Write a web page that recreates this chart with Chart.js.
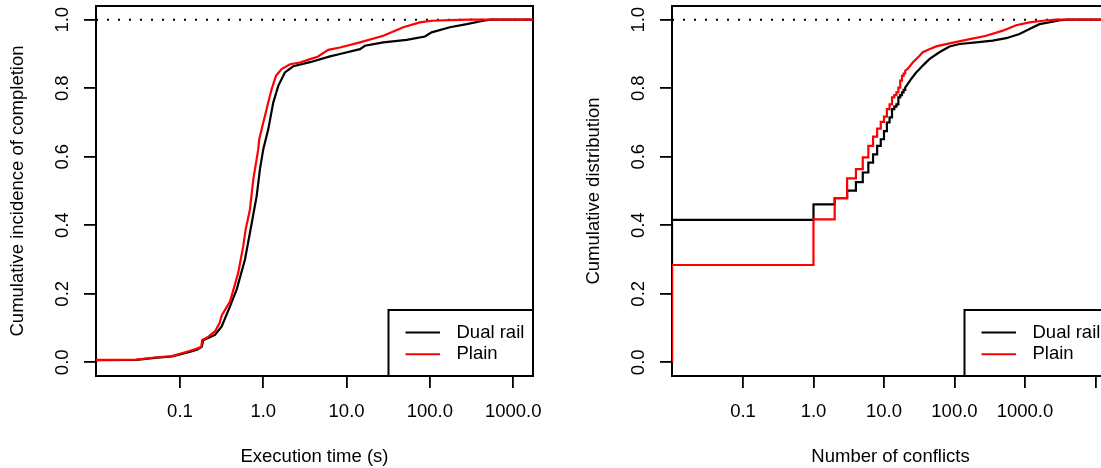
<!DOCTYPE html>
<html lang="en">
<head>
<meta charset="UTF-8">
<title>Execution time and conflicts</title>
<script src="https://cdn.jsdelivr.net/npm/chart.js"></script>
<style>
  html, body { margin: 0; padding: 0; background: #fff; overflow: hidden; width: 1101px; height: 468px; }
  .panel { position: absolute; top: 0; width: 550px; height: 468px; }
  #left { left: 0; }
  #right { left: 576px; }
</style>
</head>
<body>
<div class="panel" id="left"><canvas id="timeChart" width="550" height="468"></canvas></div>
<div class="panel" id="right"><canvas id="conflictChart" width="550" height="468"></canvas></div>

<script>
// series shared by both panels
const seriesNames = ['Dual rail', 'Plain'];
const seriesColors = ['#000000', '#ff0000'];

const yTicks = [0, 0.2, 0.4, 0.6, 0.8, 1.0];
const yTickLabels = ['0.0', '0.2', '0.4', '0.6', '0.8', '1.0'];

// left panel: execution time (s)
const timeTicks = [0.1, 1, 10, 100, 1000];
const timeTickLabels = ['0.1', '1.0', '10.0', '100.0', '1000.0'];

const dualTimeX = [0.001, 0.03, 0.05, 0.08, 0.1, 0.13, 0.16, 0.183, 0.19, 0.263, 0.317, 0.40, 0.48, 0.603,
  0.692, 0.833, 0.912, 1.0, 1.148, 1.318, 1.514, 1.82, 2.29, 3.64, 6.32, 8.33, 14.5, 16.6, 27.6, 52.6,
  87.3, 105, 174, 277, 438, 527, 100000];
const dualTimeY = [0.004, 0.007, 0.013, 0.017, 0.023, 0.030, 0.037, 0.045, 0.064, 0.080, 0.105, 0.164, 0.213, 0.300,
  0.378, 0.485, 0.563, 0.622, 0.680, 0.758, 0.807, 0.846, 0.864, 0.876, 0.893, 0.900, 0.914, 0.924, 0.934, 0.941,
  0.951, 0.963, 0.978, 0.987, 0.997, 1.0, 1.0];

const plainTimeX = [0.001, 0.03, 0.05, 0.08, 0.1, 0.13, 0.16, 0.18, 0.185, 0.22, 0.263, 0.3, 0.317, 0.4, 0.5,
  0.575, 0.615, 0.692, 0.759, 0.833, 0.871, 0.895, 1.0, 1.048, 1.15, 1.26, 1.42, 1.66, 2.09, 2.76, 3.64, 4.5,
  6.03, 8.33, 14.5, 27.6, 48, 76, 105, 174, 300, 100000];
const plainTimeY = [0.005, 0.008, 0.014, 0.018, 0.025, 0.033, 0.040, 0.045, 0.065, 0.075, 0.090, 0.115, 0.137, 0.178, 0.261,
  0.339, 0.388, 0.446, 0.534, 0.593, 0.622, 0.651, 0.700, 0.719, 0.760, 0.797, 0.836, 0.856, 0.870, 0.875, 0.885, 0.892,
  0.912, 0.919, 0.934, 0.953, 0.978, 0.992, 0.997, 0.999, 1.0, 1.0];

// right panel: number of conflicts
const conflictTicks = [0.1, 1, 10, 100, 1000, 10000];
const conflictTickLabels = ['0.1', '1.0', '10.0', '100.0', '1000.0', ''];

const dualAtZero = 0.416;
const plainAtZero = 0.284;
const conflictSteps = [1, 2, 3, 4, 5, 6, 7, 8, 9, 10, 11, 12, 13, 14, 15, 16, 17, 18, 19, 20];
const dualStepY = [0.461, 0.479, 0.501, 0.526, 0.554, 0.583, 0.607, 0.632, 0.651, 0.675,
  0.700, 0.715, 0.739, 0.746, 0.753, 0.773, 0.780, 0.788, 0.795, 0.802];
const plainStepY = [0.417, 0.479, 0.537, 0.564, 0.598, 0.632, 0.659, 0.682, 0.702, 0.717,
  0.739, 0.753, 0.773, 0.780, 0.788, 0.802, 0.822, 0.836, 0.843, 0.851];

const dualTailX = [24.3, 28.6, 32, 35.5, 44, 61, 85, 118, 203, 349, 541, 835, 1160, 1607, 2480, 3260, 4000];
const dualTailY = [0.827, 0.846, 0.856, 0.866, 0.885, 0.905, 0.922, 0.929, 0.934, 0.939, 0.946, 0.958, 0.973, 0.987, 0.994, 0.999, 1.0];
const plainTailX = [22, 25.6, 32, 35.5, 44, 55, 85, 147, 282, 484, 750, 1160, 1790, 2770];
const plainTailY = [0.858, 0.875, 0.895, 0.905, 0.914, 0.922, 0.931, 0.941, 0.953, 0.968, 0.984, 0.992, 0.997, 1.0];

// axis limits (R style 4% extension on log scale)
const timeMin = 0.00982, timeMax = 1730;
const conflictMin = 0.00984, conflictMax = 15560;

const FONT = '18.5px "Liberation Sans", Arial, sans-serif';

function toPoints(xs, ys) {
  return xs.map((x, i) => ({ x: x, y: ys[i] }));
}

// empirical cdf for the conflicts: zero conflicts sit on the left edge
function ecdfPoints(edge, atZero, steps, stepY, tailX, tailY, far) {
  const out = [{ x: edge, y: 0 }, { x: edge, y: atZero }];
  let prev = atZero;
  steps.forEach((s, i) => {
    out.push({ x: s, y: prev });
    out.push({ x: s, y: stepY[i] });
    prev = stepY[i];
  });
  tailX.forEach((x, i) => out.push({ x: x, y: tailY[i] }));
  out.push({ x: far, y: 1 });
  return out;
}

const rFrame = {
  id: 'rFrame',
  // box goes under the curves, like R's box() before lines()
  beforeDatasetsDraw(chart) {
    const ctx = chart.ctx;
    const a = chart.chartArea;
    ctx.save();
    ctx.strokeStyle = '#000';
    ctx.lineWidth = 2;
    ctx.strokeRect(a.left, a.top, a.right - a.left, a.bottom - a.top);
    ctx.restore();
  },
  afterDraw(chart, args, opts) {
    const ctx = chart.ctx;
    const a = chart.chartArea;
    const xs = chart.scales.x, ys = chart.scales.y;
    ctx.save();
    ctx.fillStyle = '#000';
    ctx.font = FONT;
    ctx.textAlign = 'center';
    ctx.textBaseline = 'middle';
    opts.xTicks.forEach((v, i) => {
      ctx.fillText(opts.xLabels[i], xs.getPixelForValue(v), a.bottom + 36);
    });
    yTicks.forEach((v, i) => {
      ctx.save();
      ctx.translate(a.left - 33, ys.getPixelForValue(v));
      ctx.rotate(-Math.PI / 2);
      ctx.fillText(yTickLabels[i], 0, 0);
      ctx.restore();
    });

    // axis titles
    ctx.fillText(opts.xTitle, (a.left + a.right) / 2, a.bottom + 81);
    ctx.save();
    ctx.translate(a.left - 78, (a.top + a.bottom) / 2);
    ctx.rotate(-Math.PI / 2);
    ctx.fillText(opts.yTitle, 0, 0);
    ctx.restore();

    // legend, bottom right like R
    const lw = 144.5, lh = 66;
    const lx = a.right - lw, ly = a.bottom - lh;
    ctx.fillStyle = '#fff';
    ctx.fillRect(lx, ly, lw, lh);
    ctx.strokeStyle = '#000';
    ctx.lineWidth = 2;
    ctx.strokeRect(lx, ly, lw, lh);
    ctx.textAlign = 'left';
    seriesNames.forEach((name, i) => {
      const yy = ly + 22.5 + i * 21.7;
      ctx.strokeStyle = seriesColors[i];
      ctx.beginPath();
      ctx.moveTo(lx + 17, yy);
      ctx.lineTo(lx + 51.5, yy);
      ctx.stroke();
      ctx.fillStyle = '#000';
      ctx.fillText(name, lx + 68, yy);
    });
    ctx.restore();
  }
};

function makeChart(id, datasets, xMin, xMax, frame) {
  const ticks = frame.xTicks;
  return new Chart(document.getElementById(id), {
    type: 'line',
    data: { datasets: datasets },
    options: {
      responsive: false,
      animation: false,
      devicePixelRatio: 1,
      layout: { padding: { left: 0, top: 6, right: 17, bottom: 0 } },
      plugins: { legend: { display: false }, tooltip: { enabled: false }, rFrame: frame },
      scales: {
        x: {
          type: 'logarithmic',
          min: xMin,
          max: xMax,
          afterBuildTicks: s => { s.ticks = ticks.map(v => ({ value: v })); },
          afterFit: s => { s.height = 92; },
          ticks: { display: false },
          grid: { display: true, drawOnChartArea: false, drawTicks: true, tickLength: 12, color: '#000', lineWidth: 1.8 },
          border: { display: true, color: '#000', width: 2 }
        },
        y: {
          type: 'linear',
          min: -0.04,
          max: 1.04,
          afterBuildTicks: s => { s.ticks = yTicks.map(v => ({ value: v })); },
          afterFit: s => { s.width = 96; },
          ticks: { display: false },
          grid: { display: true, drawOnChartArea: false, drawTicks: true, tickLength: 12, color: '#000', lineWidth: 1.8 },
          border: { display: true, color: '#000', width: 2 }
        }
      }
    },
    plugins: [rFrame]
  });
}

function lineSet(label, data, color, order) {
  return { label: label, data: data, borderColor: color, borderWidth: 2.2, pointRadius: 0, tension: 0, fill: false, order: order };
}

function dotted(xMin, xMax) {
  return {
    label: 'one', data: [{ x: xMin, y: 1 }, { x: xMax, y: 1 }],
    borderColor: '#000', borderWidth: 2, borderDash: [2, 9], pointRadius: 0, fill: false, order: 3
  };
}

makeChart('timeChart', [
  dotted(timeMin, timeMax),
  lineSet(seriesNames[0], toPoints(dualTimeX, dualTimeY), seriesColors[0], 2),
  lineSet(seriesNames[1], toPoints(plainTimeX, plainTimeY), seriesColors[1], 1)
], timeMin, timeMax, {
  xTicks: timeTicks, xLabels: timeTickLabels,
  xTitle: 'Execution time (s)', yTitle: 'Cumulative incidence of completion'
});

makeChart('conflictChart', [
  dotted(conflictMin, conflictMax),
  lineSet(seriesNames[0], ecdfPoints(conflictMin, dualAtZero, conflictSteps, dualStepY, dualTailX, dualTailY, 1e6), seriesColors[0], 2),
  lineSet(seriesNames[1], ecdfPoints(conflictMin, plainAtZero, conflictSteps, plainStepY, plainTailX, plainTailY, 1e6), seriesColors[1], 1)
], conflictMin, conflictMax, {
  xTicks: conflictTicks, xLabels: conflictTickLabels,
  xTitle: 'Number of conflicts', yTitle: 'Cumulative distribution'
});
</script>
</body>
</html>
